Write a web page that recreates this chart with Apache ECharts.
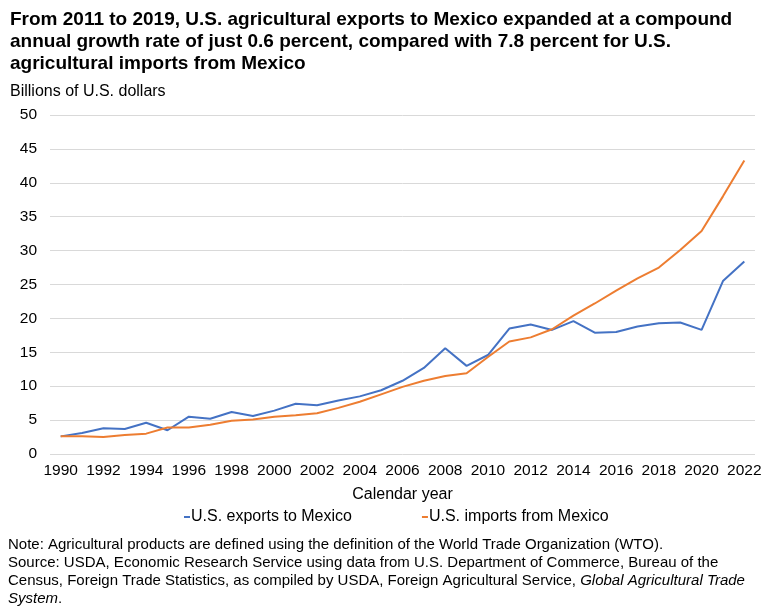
<!DOCTYPE html>
<html><head><meta charset="utf-8">
<script src="https://cdn.jsdelivr.net/npm/echarts@6/dist/echarts.min.js"></script>
<style>html,body{margin:0;padding:0;background:#fff}#c{width:768px;height:614px}</style>
</head><body><div id="c"></div>
<script>
const years = [];
for (let y = 1990; y <= 2022; y++) years.push(String(y));
const exportsToMexico = [2.6,3.1,3.8,3.7,4.6,3.5,5.5,5.2,6.2,5.6,6.4,7.4,7.2,7.9,8.5,9.4,10.8,12.7,15.6,13.0,14.6,18.5,19.1,18.3,19.6,17.9,18.0,18.8,19.3,19.4,18.3,25.5,28.4];
const importsFromMexico = [2.6,2.6,2.5,2.8,3.0,3.9,3.9,4.3,4.9,5.1,5.5,5.7,6.0,6.8,7.7,8.8,9.9,10.8,11.5,11.9,14.3,16.6,17.2,18.4,20.4,22.2,24.1,25.9,27.5,30.1,32.9,38.0,43.3];

const F = 'Liberation Sans, Arial, sans-serif';
const chart = echarts.init(document.getElementById('c'));
chart.setOption({
  backgroundColor: '#fff',
  animation: false,
  textStyle: { fontFamily: F },
  grid: { left: 50, right: 13, top: 115, bottom: 160, containLabel: false },
  xAxis: {
    type: 'category', data: years, boundaryGap: true,
    axisLine: { show: false }, axisTick: { show: false },
    axisLabel: { interval: 1, color: '#000', fontSize: 15.5, fontFamily: F, margin: 9 },
    name: 'Calendar year', nameLocation: 'middle', nameGap: 33,
    nameTextStyle: { color: '#000', fontSize: 16, fontFamily: F }
  },
  yAxis: {
    type: 'value', min: 0, max: 50, interval: 5,
    axisLine: { show: false }, axisTick: { show: false },
    axisLabel: { color: '#000', fontSize: 15.5, fontFamily: F, margin: 13 },
    splitLine: { lineStyle: { color: '#d9d9d9', width: 1 } }
  },
  legend: {
    top: 504, left: 179, itemGap: 70,
    icon: 'rect', itemWidth: 6, itemHeight: 2,
    textStyle: { color: '#000', fontSize: 16, fontFamily: F, padding: [0,0,0,-4] },
    data: ['U.S. exports to Mexico', 'U.S. imports from Mexico']
  },
  series: [
    { name: 'U.S. exports to Mexico', type: 'line', data: exportsToMexico, symbol: 'none',
      lineStyle: { color: '#4472C4', width: 2 }, itemStyle: { color: '#4472C4' } },
    { name: 'U.S. imports from Mexico', type: 'line', data: importsFromMexico, symbol: 'none',
      lineStyle: { color: '#ED7D31', width: 2 }, itemStyle: { color: '#ED7D31' } }
  ],
  graphic: [
    { type: 'text', left: 10, top: 9, style: {
      text: 'From 2011 to 2019, U.S. agricultural exports to Mexico expanded at a compound\nannual growth rate of just 0.6 percent, compared with 7.8 percent for U.S.\nagricultural imports from Mexico',
      font: 'bold 19px ' + F, fill: '#000', lineHeight: 22 } },
    { type: 'text', left: 10, top: 84, style: {
      text: 'Billions of U.S. dollars', font: '16px ' + F, fill: '#000' } },
    { type: 'text', left: 8, top: 537, style: {
      text: '{n|Note: Agricultural products are defined using the definition of the World Trade Organization (WTO).}\n{n|Source: USDA, Economic Research Service using data from U.S. Department of Commerce, Bureau of the}\n{n|Census, Foreign Trade Statistics, as compiled by USDA, Foreign Agricultural Service, }{i|Global Agricultural Trade}\n{i|System}{n|.}',
      rich: {
        n: { font: '15px ' + F, fill: '#000', lineHeight: 18 },
        i: { font: 'italic 15px ' + F, fill: '#000', lineHeight: 18 }
      } } }
  ]
});
</script></body></html>
